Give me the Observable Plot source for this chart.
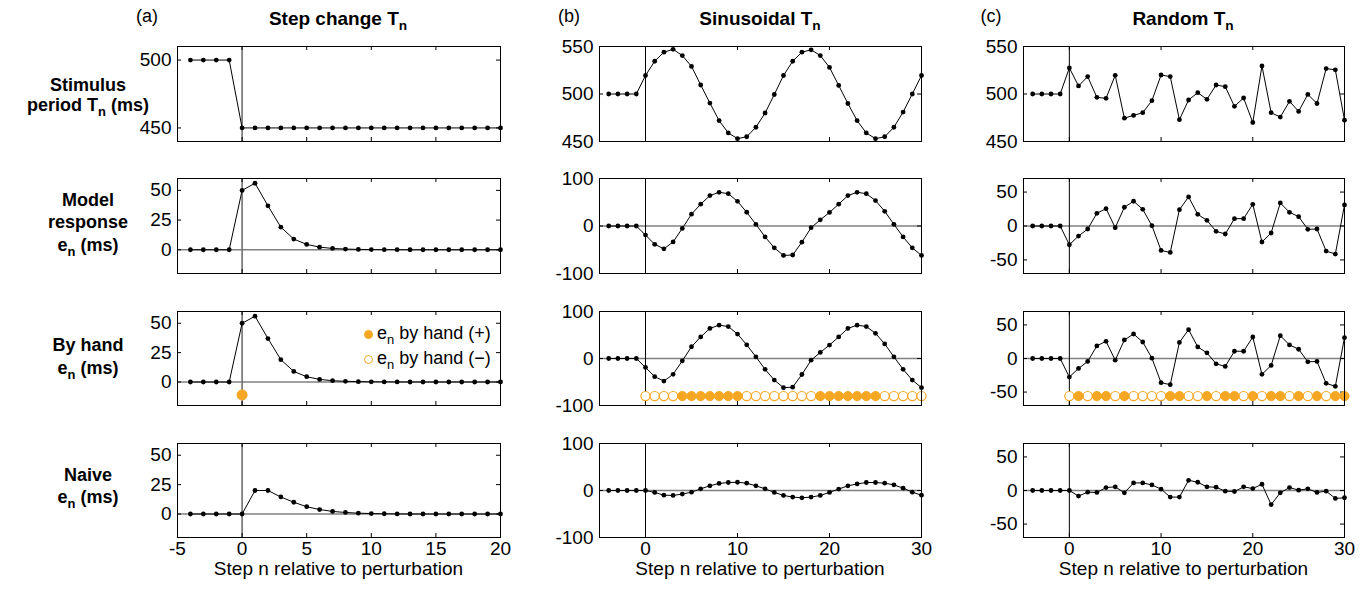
<!DOCTYPE html>
<html>
<head>
<meta charset="utf-8">
<script src="https://cdn.jsdelivr.net/npm/d3@7"></script>
<script src="https://cdn.jsdelivr.net/npm/@observablehq/plot@0.6"></script>
<style>
  body { margin: 0; background: #fff; }
  #fig { position: relative; width: 1371px; height: 591px; overflow: hidden;
         font-family: "Liberation Sans", Arial, Helvetica, sans-serif; color: #000; }
  .lab { position: absolute; white-space: nowrap; line-height: 1; transform: translate(-50%, -50%); }
  .bold { font-weight: bold; }
  .panel { position: absolute; }
  sub { font-size: 0.72em; vertical-align: -0.42em; line-height: 0; }
  .legend { position: absolute; font-size: 18px; white-space: nowrap; line-height: 1; }
  .legend .mk { display: inline-block; width: 9px; height: 9px; border-radius: 50%;
                border: 1.3px solid #f5a623; box-sizing: border-box; vertical-align: middle; margin-right: 4px; }
</style>
</head>
<body>
<div id="fig"></div>
<script>
// Step index n relative to the perturbation
const stepsShort = [-4, -3, -2, -1, 0, 1, 2, 3, 4, 5, 6, 7, 8, 9, 10, 11, 12, 13, 14, 15, 16, 17, 18, 19, 20];
const stepsLong = [-4, -3, -2, -1, 0, 1, 2, 3, 4, 5, 6, 7, 8, 9, 10, 11, 12, 13, 14, 15, 16, 17, 18, 19, 20,
                   21, 22, 23, 24, 25, 26, 27, 28, 29, 30];
const handSteps = [0, 1, 2, 3, 4, 5, 6, 7, 8, 9, 10, 11, 12, 13, 14, 15, 16, 17, 18, 19, 20,
                   21, 22, 23, 24, 25, 26, 27, 28, 29, 30];

// (a) step change in the stimulus period
const periodStep = [500, 500, 500, 500, 450, 450, 450, 450, 450, 450, 450, 450, 450, 450, 450, 450, 450,
                    450, 450, 450, 450, 450, 450, 450, 450];
const modelStep = [0, 0, 0, 0, 50, 56, 37, 19, 9, 4.5, 2.2, 1.1, 0.6, 0.3, 0.15, 0.08, 0.04, 0, 0, 0, 0, 0, 0, 0, 0];
const handStep = [0, 0, 0, 0, 50, 56, 37, 19, 9, 4.5, 2.2, 1.1, 0.6, 0.3, 0.15, 0.08, 0.04, 0, 0, 0, 0, 0, 0, 0, 0];
const naiveStep = [0, 0, 0, 0, 0, 20, 20, 14.5, 10, 6.2, 3.8, 2.2, 1.3, 0.7, 0.4, 0.2, 0.1, 0, 0, 0, 0, 0, 0, 0, 0];
const signStep = ["+"];

// (b) sinusoidal stimulus period
const periodSine = [500, 500, 500, 500, 519.5, 534.5, 544, 547, 540.5, 529, 509.5, 490.5, 472, 459, 453, 455,
                    465, 480, 499.5, 519.5, 534.5, 544, 546.5, 540.5, 528, 509, 490, 472, 459, 453, 455, 465,
                    481, 500, 519.5];
const modelSine = [0, 0, 0, 0, -19, -38.6, -48, -33.6, -5, 25, 46, 64, 71, 68, 52, 29, 3.6, -23, -46, -62, -61,
                   -34, -3.6, 13, 28.6, 46, 64, 71, 68, 53.6, 31, 3.6, -23, -46, -62];
const handSine = [0, 0, 0, 0, -19, -38.6, -48, -33.6, -5, 25, 46, 64, 71, 68, 52, 29, 3.6, -23, -46, -62, -61,
                  -34, -3.6, 13, 28.6, 46, 64, 71, 68, 53.6, 31, 3.6, -23, -46, -62];
const naiveSine = [0, 0, 0, 0, 0, -4, -10, -10.5, -7.7, -3.5, 3.5, 10, 15, 17, 17.6, 15.5, 10, 3.5, -4, -10.5,
                   -14, -15.5, -14, -10.5, -4, 3, 10, 14, 17, 17, 15.5, 12, 5, -3.5, -10];
const signSine = ["-", "-", "-", "-", "+", "+", "+", "+", "+", "+", "+", "-", "-", "-", "-", "-", "-", "-", "-",
                  "+", "+", "+", "+", "+", "+", "+", "-", "-", "-", "-", "-"];

// (c) random stimulus period
const periodRand = [500, 500, 500, 500, 527.5, 508.5, 518.3, 496.5, 495.4, 519.7, 474.6, 477.5, 480.3, 493, 520,
                    518.3, 473, 493.7, 501.4, 494.4, 509.5, 507.7, 487, 495.8, 470, 529.6, 480.3, 475.7, 492.3,
                    481.7, 499.6, 490, 526.8, 525.4, 472.5];
const modelRand = [0, 0, 0, 0, -27.6, -14.8, -4.4, 18.7, 25.6, -2.5, 27.6, 36.5, 24.6, 0.5, -36, -39, 24, 42.9,
                   17.2, 8.4, -7.9, -11.8, 10.8, 10.8, 32, -23.6, -10.3, 34, 20.2, 13.8, -4.9, -4.4, -37, -41.4, 31];
const handRand = [0, 0, 0, 0, -27.6, -14.8, -4.4, 18.7, 25.6, -2.5, 27.6, 36.5, 24.6, 0.5, -36, -39, 24, 42.9,
                  17.2, 8.4, -7.9, -11.8, 10.8, 10.8, 32, -23.6, -10.3, 34, 20.2, 13.8, -4.9, -4.4, -37, -41.4, 31];
const naiveRand = [0, 0, 0, 0, 0, -8.3, -2.5, -2.9, 4.4, 5.4, -3.4, 11.3, 11.3, 8.3, 2, -9.8, -9.8, 15.2, 12.3,
                   5.4, 4.9, -1, -1.5, 5.4, 2.9, 9.3, -21, -3.4, 4.4, 0.5, 2.5, -2.9, -1, -11.8, -10.8];
const signRand = ["-", "+", "-", "+", "+", "-", "+", "-", "-", "-", "-", "+", "+", "-", "-", "+", "-", "+", "+",
                  "-", "+", "-", "+", "+", "-", "+", "-", "+", "-", "+", "+"];

// level at which the by-hand sign markers sit in each column
const signLevel = [-11, -80, -56];

// axis ticks
const xTicksShort = [-5, 0, 5, 10, 15, 20];
const xTicksLong = [0, 10, 20, 30];
const periodTicksA = [450, 500];
const periodTicksBC = [450, 500, 550];
const errTicksA = [0, 25, 50];
const errTicksB = [-100, 0, 100];
const errTicksC = [-50, 0, 50];

const orange = "#f5a623";
const fig = document.getElementById("fig");

// frame edges of the three columns and four rows, in page pixels
const colBox = [{x0: 177, x1: 500}, {x0: 599, x1: 921}, {x0: 1023, x1: 1344}];
const rowBox = [{y0: 46, y1: 141}, {y0: 178, y1: 273}, {y0: 311, y1: 405}, {y0: 443, y1: 537}];

function panel(c) {
  const fr = colBox[c.col], rw = rowBox[c.row];
  const last = c.row === 3;
  const mL = 70, mR = 14, mT = 8, mB = last ? 36 : 8;
  const W = fr.x1 - fr.x0, H = rw.y1 - rw.y0;
  const data = c.n.map((k, i) => ({n: k, v: c.values[i]}));
  const fmt = d => String(d);
  const marks = [];
  if (c.zero) marks.push(Plot.ruleY([0], {stroke: "#808080", strokeWidth: 1.5}));
  marks.push(Plot.ruleX([0], {stroke: c.col === 0 ? "#707070" : "#000", strokeWidth: c.col === 0 ? 1.6 : 1}));
  // inward ticks on all four sides
  marks.push(Plot.tickY(c.yTicks, {y: d => d, insetRight: W - 4, stroke: "#000"}));
  marks.push(Plot.tickY(c.yTicks, {y: d => d, insetLeft: W - 4, stroke: "#000"}));
  marks.push(Plot.tickX(c.xTicks, {x: d => d, insetTop: H - 4, stroke: "#000"}));
  marks.push(Plot.tickX(c.xTicks, {x: d => d, insetBottom: H - 4, stroke: "#000"}));
  marks.push(Plot.line(data, {x: "n", y: "v", stroke: "#000", strokeWidth: 1}));
  marks.push(Plot.dot(data, {x: "n", y: "v", r: 2.4, fill: "#000", stroke: null}));
  if (c.signs) {
    const lvl = signLevel[c.col];
    const sd = c.signs.map((s, i) => ({n: handSteps[i], s}));
    const r = c.col === 0 ? 5 : 4.6;
    marks.push(Plot.dot(sd.filter(d => d.s === "-"), {x: "n", y: () => lvl, r, fill: "#fff", stroke: orange, strokeWidth: 1.2}));
    marks.push(Plot.dot(sd.filter(d => d.s === "+"), {x: "n", y: () => lvl, r, fill: orange, stroke: orange, strokeWidth: 1}));
  }
  marks.push(Plot.axisY({ticks: c.yTicks, tickSize: 0, tickPadding: 6, label: null, tickFormat: fmt}));
  if (last) marks.push(Plot.axisX({ticks: c.xTicks, tickSize: 0, tickPadding: 4, label: null, tickFormat: fmt}));
  marks.push(Plot.frame({stroke: "#000", strokeWidth: 1}));

  const svg = Plot.plot({
    width: W + mL + mR,
    height: H + mT + mB,
    marginLeft: mL, marginRight: mR, marginTop: mT, marginBottom: mB,
    x: {domain: c.xDomain, axis: null},
    y: {domain: c.yDomain, axis: null},
    style: {fontSize: "19px", fontFamily: "'Liberation Sans', Arial, sans-serif", background: "transparent", color: "#000", overflow: "visible"},
    marks
  });
  const div = document.createElement("div");
  div.className = "panel";
  div.style.left = (fr.x0 - mL) + "px";
  div.style.top = (rw.y0 - mT) + "px";
  div.appendChild(svg);
  fig.appendChild(div);

  if (last) {
    const t = document.createElement("div");
    t.className = "lab";
    t.style.fontSize = "19px";
    t.style.left = ((fr.x0 + fr.x1) / 2) + "px";
    t.style.top = "568px";
    t.textContent = "Step n relative to perturbation";
    fig.appendChild(t);
  }
}

const columns = [
  {xDomain: [-5, 20], xTicks: xTicksShort, n: stepsShort, period: periodStep, pDom: [440, 510], pTicks: periodTicksA,
   model: modelStep, hand: handStep, naive: naiveStep, signs: signStep, eDom: [-20, 60], eTicks: errTicksA},
  {xDomain: [-5, 30], xTicks: xTicksLong, n: stepsLong, period: periodSine, pDom: [450, 550], pTicks: periodTicksBC,
   model: modelSine, hand: handSine, naive: naiveSine, signs: signSine, eDom: [-100, 100], eTicks: errTicksB},
  {xDomain: [-5, 30], xTicks: xTicksLong, n: stepsLong, period: periodRand, pDom: [450, 550], pTicks: periodTicksBC,
   model: modelRand, hand: handRand, naive: naiveRand, signs: signRand, eDom: [-70, 70], eTicks: errTicksC}
];

columns.forEach((k, col) => {
  const base = {col, xDomain: k.xDomain, xTicks: k.xTicks, n: k.n};
  panel({...base, row: 0, values: k.period, yDomain: k.pDom, yTicks: k.pTicks, zero: false});
  panel({...base, row: 1, values: k.model, yDomain: k.eDom, yTicks: k.eTicks, zero: true});
  panel({...base, row: 2, values: k.hand, yDomain: k.eDom, yTicks: k.eTicks, zero: true, signs: k.signs});
  panel({...base, row: 3, values: k.naive, yDomain: k.eDom, yTicks: k.eTicks, zero: true});
});

// column headings
function label(html, x, y, cls, size) {
  const d = document.createElement("div");
  d.className = "lab " + (cls || "");
  d.style.left = x + "px";
  d.style.top = y + "px";
  d.style.fontSize = size + "px";
  d.innerHTML = html;
  fig.appendChild(d);
}
label("(a)", 147, 16, "", 18);
label("(b)", 569, 16, "", 18);
label("(c)", 991, 16, "", 18);
label("Step change T<sub>n</sub>", 338, 18, "bold", 19);
label("Sinusoidal T<sub>n</sub>", 760, 18, "bold", 19);
label("Random T<sub>n</sub>", 1183, 18, "bold", 19);

// row headings
label("Stimulus", 88, 85, "bold", 18);
label("period T<sub>n</sub> (ms)", 88, 105, "bold", 18);
label("Model", 88, 200, "bold", 18);
label("response", 88, 222, "bold", 18);
label("e<sub>n</sub> (ms)", 88, 245, "bold", 18);
label("By hand", 88, 345, "bold", 18);
label("e<sub>n</sub> (ms)", 88, 368, "bold", 18);
label("Naive", 88, 475, "bold", 18);
label("e<sub>n</sub> (ms)", 88, 497, "bold", 18);

// legend for the by-hand sign markers
const legendItems = [{sym: "+", filled: true, y: 334}, {sym: "\u2212", filled: false, y: 359}];
legendItems.forEach(it => {
  const d = document.createElement("div");
  d.className = "legend";
  d.style.left = "364px";
  d.style.top = (it.y - 10) + "px";
  d.innerHTML = `<span class="mk" style="background:${it.filled ? orange : "#fff"}"></span>e<sub>n</sub> by hand (${it.sym})`;
  fig.appendChild(d);
});
</script>
</body>
</html>
